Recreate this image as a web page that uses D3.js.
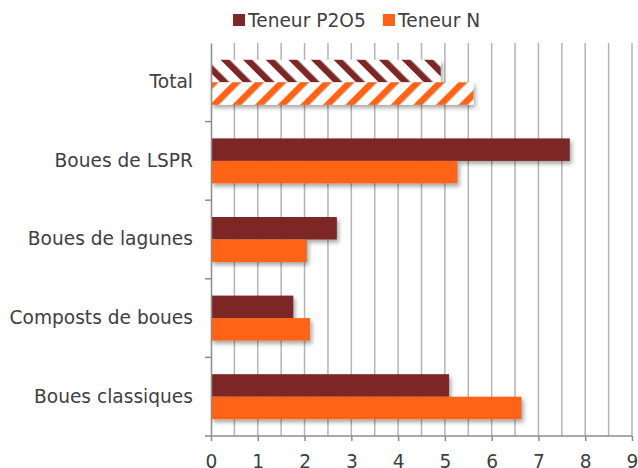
<!DOCTYPE html>
<html>
<head>
<meta charset="utf-8">
<script src="https://cdn.jsdelivr.net/npm/d3@7"></script>
<style>
  body { margin: 0; background: #fff; }
  text { font-family: "DejaVu Sans", Verdana, sans-serif; fill: #404040; }
</style>
</head>
<body>
<script>
// data
var categories = ["Total", "Boues de LSPR", "Boues de lagunes", "Composts de boues", "Boues classiques"];
var seriesNames = ["Teneur P2O5", "Teneur N"];
var p2o5 = [4.91, 7.67, 2.69, 1.76, 5.09];
var azote = [5.61, 5.27, 2.05, 2.12, 6.64];
var xTicks = [0, 1, 2, 3, 4, 5, 6, 7, 8, 9];

var colors = ["#7b2827", "#ff6319"];
var fontSize = "18.6px";

var width = 638,
    height = 468,
    margin = {top: 43, right: 6, bottom: 32, left: 211};

var svg = d3.select("body")
    .append("svg")
    .attr("width", width)
    .attr("height", height);

var defs = svg.append("defs");

var shadow = defs.append("filter")
    .attr("id", "shadow")
    .attr("x", "-5%").attr("y", "-20%")
    .attr("width", "115%").attr("height", "160%");
shadow.append("feDropShadow")
    .attr("dx", 2).attr("dy", 3)
    .attr("stdDeviation", 2)
    .attr("flood-color", "#000")
    .attr("flood-opacity", 0.35);

// hatched fills for the "Total" row
function hatch(id, color, dir) {
  var p = defs.append("pattern")
      .attr("id", id)
      .attr("patternUnits", "userSpaceOnUse")
      .attr("width", 16).attr("height", 16)
      .attr("patternTransform", "rotate(" + dir + ")");
  p.append("rect").attr("width", 16).attr("height", 16).attr("fill", "#fff");
  p.append("rect").attr("width", 6.5).attr("height", 16).attr("fill", color);
}
hatch("hatch0", colors[0], -45);
hatch("hatch1", colors[1], 45);

var x = d3.scaleLinear()
    .domain([0, 9])
    .range([margin.left, width - margin.right]);

var y = d3.scaleBand()
    .domain(categories)
    .range([margin.top, height - margin.bottom]);

var sub = d3.scaleBand()
    .domain(seriesNames)
    .range([y.bandwidth() / 2 - 22.5, y.bandwidth() / 2 + 22.5]);

// gridlines every 0.5
svg.append("g")
    .selectAll("line")
    .data(d3.range(1, 19).map(function(d) { return d / 2; }))
    .enter().append("line")
    .attr("x1", function(d) { return x(d); })
    .attr("x2", function(d) { return x(d); })
    .attr("y1", margin.top)
    .attr("y2", height - margin.bottom)
    .attr("stroke", "#b4b4b4")
    .attr("stroke-width", 1.5);

// bars
var rows = categories.map(function(c, i) {
  return {cat: c, vals: [p2o5[i], azote[i]], idx: i};
});

var rowG = svg.append("g")
    .selectAll("g")
    .data(rows)
    .enter().append("g")
    .attr("transform", function(d) { return "translate(0," + y(d.cat) + ")"; });

rowG.selectAll("rect")
    .data(function(d) {
      return d.vals.map(function(v, k) { return {v: v, k: k, total: d.idx === 0}; });
    })
    .enter().append("rect")
    .attr("x", x(0))
    .attr("y", function(d) { return sub(seriesNames[d.k]); })
    .attr("width", function(d) { return x(d.v) - x(0); })
    .attr("height", sub.bandwidth())
    .attr("fill", function(d) { return d.total ? "url(#hatch" + d.k + ")" : colors[d.k]; })
    .attr("filter", "url(#shadow)");

// x axis
var xAxis = svg.append("g")
    .attr("transform", "translate(0," + (height - margin.bottom) + ")")
    .call(d3.axisBottom(x).tickValues(xTicks).tickSize(5).tickPadding(14).tickSizeOuter(0));
xAxis.select(".domain").attr("stroke", "#8c8c8c").attr("stroke-width", 1.5)
    .attr("d", "M" + (margin.left - 6) + ",0H" + x(9));
xAxis.selectAll(".tick line").attr("stroke", "#8c8c8c").attr("stroke-width", 1.5);
xAxis.selectAll(".tick text")
    .style("font-size", fontSize)
    .attr("fill", "#404040");

// y axis
var yAxis = svg.append("g")
    .attr("transform", "translate(" + margin.left + ",0)")
    .call(d3.axisLeft(y).tickSize(0).tickPadding(18).tickSizeOuter(0));
yAxis.select(".domain").attr("stroke", "#8c8c8c").attr("stroke-width", 1.5);
yAxis.selectAll(".tick text")
    .style("font-size", fontSize)
    .attr("fill", "#404040");

// category separators on the y axis
svg.append("g")
    .selectAll("line")
    .data(categories.slice(1))
    .enter().append("line")
    .attr("x1", margin.left - 6)
    .attr("x2", margin.left)
    .attr("y1", function(d) { return y(d); })
    .attr("y2", function(d) { return y(d); })
    .attr("stroke", "#8c8c8c")
    .attr("stroke-width", 1.5);

// legend
var legendX = [233, 383];
var legend = svg.append("g")
    .selectAll("g")
    .data(seriesNames)
    .enter().append("g")
    .attr("transform", function(d, i) { return "translate(" + legendX[i] + ",14)"; });
legend.append("rect")
    .attr("width", 12).attr("height", 12)
    .attr("fill", function(d, i) { return colors[i]; });
legend.append("text")
    .attr("x", 15).attr("y", 6)
    .attr("dy", "0.35em")
    .style("font-size", fontSize)
    .text(function(d) { return d; });
</script>
</body>
</html>
